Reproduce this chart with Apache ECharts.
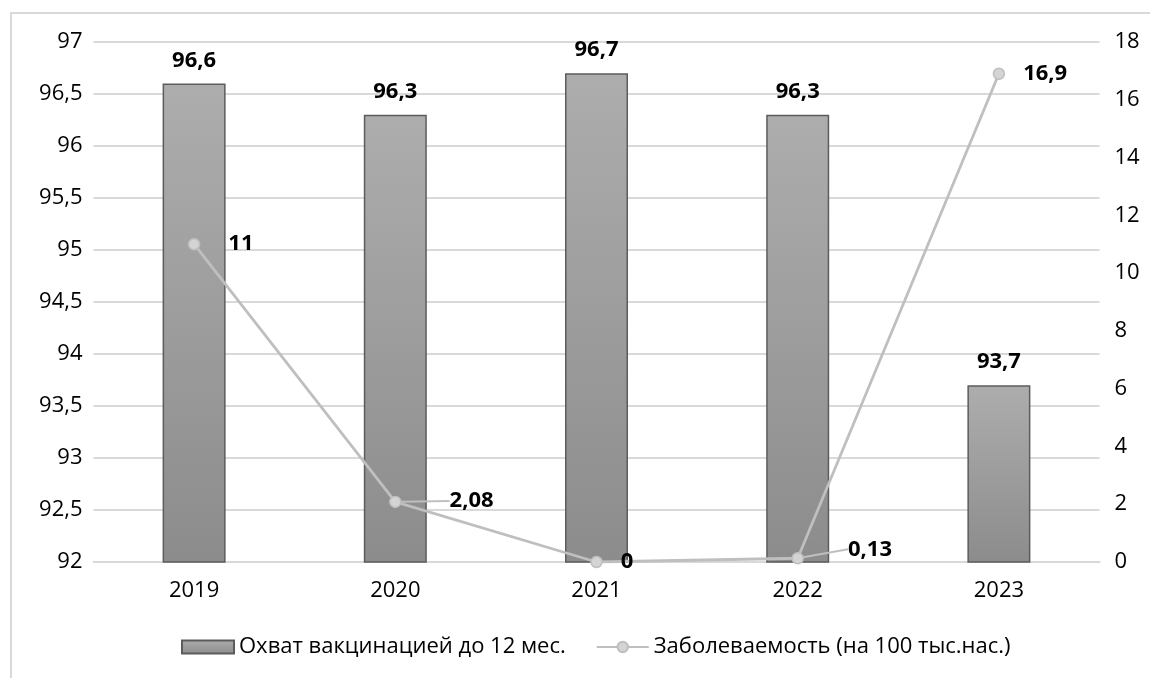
<!DOCTYPE html>
<html>
<head>
<meta charset="utf-8">
<script src="https://cdn.jsdelivr.net/npm/echarts/dist/echarts.min.js"></script>
<style>
  html, body { margin: 0; padding: 0; background: #fff; overflow: hidden; }
  #frame { position: absolute; left: 10px; top: 12px; width: 1200px; height: 700px;
           border: 2px solid #d9d9d9; box-sizing: border-box; }
  #chart { position: absolute; left: 0; top: 0; width: 1150px; height: 678px; }
</style>
</head>
<body>
<div id="frame"></div>
<div id="chart"></div>
<script>
// Years on the category axis
const years = ['2019', '2020', '2021', '2022', '2023'];
// Vaccination coverage before 12 months, %
const coverage = [96.6, 96.3, 96.7, 96.3, 93.7];
// Incidence per 100 thousand population
const incidence = [11, 2.08, 0, 0.13, 16.9];
// Left and right axis ranges
const leftTicks = { min: 92, max: 97, step: 0.5 };
const rightTicks = { min: 0, max: 18, step: 2 };

const seriesNames = ['Охват вакцинацией до 12 мес.', 'Заболеваемость (на 100 тыс.нас.)'];

// Label shifts for the incidence labels (pixels), leader line where the label is moved away
const lineLabelShift = [
  { dx: 23, dy: 0, guide: false },
  { dx: 43, dy: -1, guide: true },
  { dx: 13, dy: 0, guide: false },
  { dx: 39, dy: -9, guide: true },
  { dx: 13, dy: 0, guide: false }
];

const fmt = v => String(+v.toFixed(2)).replace('.', ',');
const FONT = '"Open Sans", "Noto Sans", sans-serif';
const FS = 22;

const chart = echarts.init(document.getElementById('chart'), null, { renderer: 'canvas' });

chart.setOption({
  backgroundColor: 'transparent',
  textStyle: { fontFamily: FONT },
  animation: false,
  grid: { left: 93.5, right: 50.5, top: 42, bottom: 116, containLabel: false },
  legend: {
    bottom: 15,
    left: 176,
    itemWidth: 52,
    itemHeight: 13,
    itemGap: 30,
    textStyle: { fontFamily: FONT, fontSize: FS, color: '#000' },
    data: [
      { name: seriesNames[0], icon: 'rect' },
      { name: seriesNames[1] }
    ]
  },
  xAxis: {
    type: 'category',
    data: years,
    axisLine: { show: true, lineStyle: { color: '#d9d9d9', width: 2 } },
    axisTick: { show: false },
    axisLabel: { fontFamily: FONT, fontSize: FS, color: '#000', margin: 18 }
  },
  yAxis: [
    {
      type: 'value',
      min: leftTicks.min, max: leftTicks.max, interval: leftTicks.step,
      axisLine: { show: false },
      axisTick: { show: false },
      splitLine: { lineStyle: { color: '#d9d9d9', width: 2 } },
      axisLabel: { fontFamily: FONT, fontSize: FS, color: '#000', margin: 11, formatter: fmt }
    },
    {
      type: 'value',
      min: rightTicks.min, max: rightTicks.max, interval: rightTicks.step,
      axisLine: { show: false },
      axisTick: { show: false },
      splitLine: { show: false },
      axisLabel: { fontFamily: FONT, fontSize: FS, color: '#000', margin: 15, formatter: fmt }
    }
  ],
  series: [
    {
      name: seriesNames[0],
      type: 'bar',
      yAxisIndex: 0,
      barWidth: 63,
      data: coverage,
      itemStyle: {
        color: new echarts.graphic.LinearGradient(0, 0, 0, 1, [
          { offset: 0, color: '#adadad' },
          { offset: 1, color: '#8c8c8c' }
        ]),
        borderColor: '#5c5c5c',
        borderWidth: 1.5
      },
      label: {
        show: true,
        position: 'top',
        distance: 12,
        fontFamily: FONT,
        fontSize: FS,
        fontWeight: 'bold',
        color: '#000',
        formatter: p => fmt(p.value)
      },
      z: 2
    },
    {
      name: seriesNames[1],
      type: 'line',
      yAxisIndex: 1,
      data: incidence.map((v, i) => ({
        value: v,
        labelLine: { show: lineLabelShift[i].guide }
      })),
      symbol: 'circle',
      symbolSize: 11,
      lineStyle: { color: '#bfbfbf', width: 2.8 },
      itemStyle: { color: '#d4d4d4', borderColor: '#bfbfbf', borderWidth: 1.5 },
      label: {
        show: true,
        position: 'right',
        distance: 5,
        fontFamily: FONT,
        fontSize: FS,
        fontWeight: 'bold',
        color: '#000',
        formatter: p => fmt(p.value)
      },
      labelLine: { show: false, lineStyle: { color: '#bfbfbf', width: 2 } },
      labelLayout: p => ({ dx: lineLabelShift[p.dataIndex].dx, dy: lineLabelShift[p.dataIndex].dy }),
      z: 3
    }
  ]
});
</script>
</body>
</html>
